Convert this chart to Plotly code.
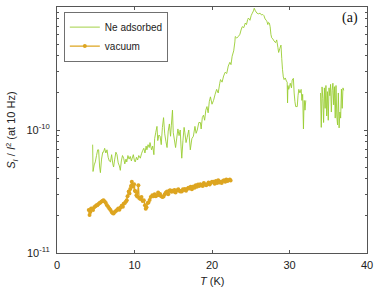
import plotly.graph_objects as go

SCALE = 1e-11  # values below are in units of 1e-11

ne_T = [4.6, 4.65, 4.8, 4.94, 5.1, 5.25, 5.37, 5.5, 5.6, 5.75, 5.9, 6.0, 6.15, 6.3, 6.45, 6.6, 6.75, 6.9,
        7.05, 7.2, 7.3, 7.45, 7.6, 7.74, 7.9, 8.05, 8.17, 8.3, 8.45, 8.6, 8.75, 8.9, 9.0, 9.15, 9.3, 9.45,
        9.6, 9.7, 9.85, 10.0, 10.1, 10.25, 10.4, 10.55, 10.75, 10.9, 11.05, 11.2, 11.35, 11.5, 11.6, 11.75,
        11.9, 12.0, 12.2, 12.35, 12.5, 12.6, 12.75, 12.9, 13.0, 13.15, 13.3, 13.45, 13.6, 13.75, 13.9, 14.05,
        14.2, 14.35, 14.5, 14.65, 14.75, 14.9, 15.0, 15.15, 15.3, 15.45, 15.6, 15.75, 15.9, 16.0, 16.1, 16.25,
        16.4, 16.5, 16.65, 16.8, 17.0, 17.2, 17.4, 17.6, 17.8, 17.95, 18.1, 18.3, 18.5, 18.6, 18.75, 18.9,
        19.05, 19.2, 19.35, 19.5, 19.65, 19.8, 20.0, 20.2, 20.4, 20.6, 20.8, 21.0, 21.1, 21.3, 21.5, 21.7,
        21.9, 22.1, 22.3, 22.45, 22.6, 22.8, 22.95, 23.0, 23.2, 23.4, 23.6, 23.75, 23.9, 24.1, 24.3, 24.45,
        24.6, 24.7, 24.9, 25.05, 25.2, 25.35, 25.45, 25.6, 25.8, 26.0, 26.2, 26.4, 26.55, 26.7, 26.85, 27.0,
        27.1, 27.2, 27.3, 27.4, 27.5, 27.6, 27.7, 27.85, 28.0, 28.2, 28.35, 28.5, 28.6, 28.75, 28.9, 29.0,
        29.1, 29.2, 29.3, 29.45, 29.6, 29.7, 29.75, 29.8, 29.9, 30.0, 30.1, 30.25, 30.35, 30.5, 30.6, 30.7,
        30.8, 31.0, 31.1, 31.2, 31.35, 31.5, 31.6, 31.7, 31.8, 31.85, 31.9, 32.0, 32.1, 33.0,
        34.0, 34.1, 34.2, 34.3, 34.4, 34.5, 34.6, 34.7, 34.8, 34.9, 35.0, 35.1, 35.2, 35.3, 35.4, 35.5,
        35.6, 35.7, 35.8, 35.9, 36.0, 36.1, 36.2, 36.3, 36.4, 36.5, 36.6, 36.7, 36.8, 36.9, 37.0]
ne_val = [7.6, 4.6, 5.2, 5.5, 6.2, 6.9, 6.9, 5.0, 4.5, 5.8, 6.6, 6.6, 7.1, 6.5, 6.9, 6.0, 5.6, 5.5,
          6.3, 5.3, 5.0, 5.8, 6.6, 6.3, 5.4, 5.1, 4.7, 5.6, 6.2, 5.9, 5.3, 5.8, 5.5, 6.2, 5.8, 6.1,
          5.6, 5.9, 6.3, 5.6, 5.5, 6.0, 5.7, 6.2, 5.9, 6.4, 6.8, 7.1, 6.5, 7.4, 6.9, 7.6,
          7.2, 7.9, 6.9, 7.4, 6.3, 8.5, 9.6, 10.7, 8.2, 9.1, 8.9, 7.6, 10.5, 12.6, 9.3, 8.1,
          7.2, 9.8, 11.2, 8.9, 10.8, 14.5, 9.5, 8.3, 7.2, 8.6, 10.2, 9.0, 10.0, 7.4, 5.9, 8.2,
          10.5, 9.5, 7.9, 8.7, 10.0, 6.9, 8.5, 8.9, 10.7, 9.4, 10.0, 11.5, 11.5, 10.2, 12.6, 13.2,
          12.0, 14.5, 15.5, 13.8, 17.0, 18.6, 16.2, 17.4, 19.5, 21.4, 20.0, 24.0, 25.7, 24.5, 27.5, 29.5,
          28.8, 33.1, 35.5, 34.0, 39.8, 44.0, 52.0, 57.5, 56.0, 57.5, 60.0, 65.0, 69.2, 68.0, 74.1, 72.0,
          79.0, 81.3, 78.0, 85.0, 89.1, 93.0, 97.7, 93.0, 89.1, 88.0, 89.1, 86.0, 87.0, 85.1, 80.0, 78.0,
          75.9, 72.0, 75.0, 74.0, 69.2, 60.0, 56.2, 55.0, 53.0, 51.3, 54.0, 47.0, 42.7, 46.0, 49.0, 38.0,
          30.9, 27.0, 25.7, 26.5, 25.0, 24.5, 16.6, 23.0, 21.4, 22.5, 24.0, 22.0, 25.5, 26.3, 20.0, 17.0,
          15.5, 15.5, 19.0, 21.4, 20.0, 21.4, 17.4, 19.5, 10.2, 14.0, 17.4, 14.5, 17.4, None,
          20.0, 10.5, 22.4, 18.0, 11.5, 22.0, 15.0, 23.0, 13.0, 20.5, 12.0, 22.0, 19.0, 23.5, 14.0, 21.0,
          24.0, 16.0, 22.5, 12.5, 23.0, 13.0, 11.0, 20.0, 10.4, 14.0, 12.5, 21.5, 15.0, 22.0, 21.0]

vac_T = [4.1, 4.2, 4.3, 4.4, 4.5, 4.65, 4.8, 4.95, 5.1, 5.2, 5.35, 5.5, 5.6, 5.75, 5.9, 6.0, 6.15, 6.3,
         6.45, 6.6, 6.75, 6.9, 7.05, 7.2, 7.3, 7.45, 7.6, 7.74, 7.9, 8.05, 8.2, 8.35, 8.5, 8.6, 8.75, 8.9,
         9.0, 9.1, 9.25, 9.35, 9.45, 9.55, 9.65, 9.75, 9.85, 9.95, 10.05, 10.15, 10.25, 10.35, 10.5, 10.6,
         10.75, 10.9, 11.05, 11.2, 11.35, 11.45, 11.55, 11.7, 11.8, 11.95, 12.1, 12.3, 12.45, 12.6, 12.75,
         12.9, 13.05, 13.2, 13.3, 13.45, 13.6, 13.75, 13.9, 14.05, 14.2, 14.35, 14.5, 14.6, 14.75, 14.9,
         15.0, 15.15, 15.3, 15.5, 15.65, 15.8, 15.9, 16.1, 16.25, 16.4, 16.5, 16.65, 16.8, 16.95, 17.1,
         17.25, 17.4, 17.6, 17.75, 17.9, 18.05, 18.2, 18.35, 18.5, 18.65, 18.8, 18.95, 19.1, 19.25, 19.4,
         19.55, 19.7, 19.85, 20.0, 20.2, 20.35, 20.5, 20.65, 20.8, 20.95, 21.1, 21.25, 21.4, 21.55, 21.7,
         21.85, 22.0, 22.15, 22.3, 22.4]
vac_val = [2.24, 2.04, 2.15, 2.3, 2.29, 2.24, 2.35, 2.4, 2.45, 2.45, 2.5, 2.55, 2.57, 2.62, 2.66, 2.69, 2.62, 2.55,
           2.45, 2.38, 2.3, 2.24, 2.15, 2.1, 2.09, 2.15, 2.2, 2.24, 2.3, 2.25, 2.34, 2.42, 2.38, 2.51, 2.55, 2.62,
           2.69, 2.9, 3.16, 3.05, 3.31, 3.5, 3.8, 3.6, 3.45, 3.63, 3.2, 3.16, 2.95, 2.88, 3.55, 2.8,
           2.75, 2.85, 2.65, 2.69, 2.45, 2.29, 2.35, 2.55, 2.57, 2.7, 2.85, 2.95, 2.9, 3.0, 2.9,
           2.95, 3.1, 2.95, 3.02, 2.9, 2.85, 2.88, 3.0, 3.1, 3.16, 3.0, 3.2, 3.24, 3.15, 3.2,
           3.16, 3.25, 3.1, 3.24, 3.3, 3.2, 3.16, 3.16, 3.3, 3.25, 3.31, 3.2, 3.31, 3.4, 3.35,
           3.45, 3.3, 3.47, 3.4, 3.55, 3.45, 3.6, 3.5, 3.63, 3.55, 3.5, 3.7, 3.6, 3.55, 3.63,
           3.75, 3.6, 3.7, 3.8, 3.8, 3.65, 3.85, 3.7, 3.9, 3.75, 3.8, 3.7, 3.85, 3.9, 3.8,
           3.95, 3.85, 3.9, 3.95, 3.89]

series_names = ["Ne adsorbed", "vacuum"]
x_ticks = [0, 10, 20, 30, 40]
y_ticks = [1e-11, 1e-10, 1e-9]
y_tick_text = ["10<sup>-11</sup>", "10<sup>-10</sup>", "10<sup>-9</sup>"]
y_minor = [m * 10 ** e for e in (-11, -10) for m in range(2, 10)]

GREEN = "#9ACD32"
ORANGE = "#DDA520"
AXC = "#555555"
FONT = "Liberation Sans, Arial, sans-serif"

fig = go.Figure()
fig.add_trace(go.Scatter(
    x=ne_T, y=[v * SCALE if v is not None else None for v in ne_val],
    mode="lines", name=series_names[0],
    line=dict(color=GREEN, width=0.9, simplify=False), connectgaps=False))
fig.add_trace(go.Scatter(
    x=vac_T, y=[v * SCALE for v in vac_val],
    mode="lines+markers", name=series_names[1],
    line=dict(color=ORANGE, width=1.3, simplify=False),
    marker=dict(color=ORANGE, size=4, line=dict(width=0))))

fig.update_layout(
    width=374, height=291,
    margin=dict(l=57, r=7, t=7, b=38, autoexpand=False),
    paper_bgcolor="white", plot_bgcolor="white",
    font=dict(family=FONT, size=11, color="#222222"),
    showlegend=True,
    legend=dict(x=0.023, y=0.98, xanchor="left", yanchor="top",
                bgcolor="white", bordercolor="#333333", borderwidth=0.7,
                font=dict(size=10, family=FONT), tracegroupgap=0, itemwidth=30),
    xaxis=dict(range=[0, 40], tickvals=x_ticks, ticks="inside", ticklen=3,
               showline=True, linecolor=AXC, linewidth=1, mirror="ticks",
               showgrid=False, zeroline=False, tickcolor=AXC, automargin=False,
               ticklabelstandoff=2),
    yaxis=dict(type="log", range=[-11, -9], tickvals=y_ticks, ticktext=y_tick_text,
               ticks="inside", ticklen=3, tickcolor=AXC, automargin=False,
               showline=True, linecolor=AXC, linewidth=1, mirror="ticks",
               showgrid=False, zeroline=False, ticklabelstandoff=4,
               minor=dict(tickvals=y_minor, ticks="inside", ticklen=2, tickcolor=AXC, showgrid=False)),
    annotations=[
        dict(text="(a)", x=0.978, y=0.955, xref="paper", yref="paper",
             xanchor="right", yanchor="middle", showarrow=False,
             font=dict(family="Liberation Serif, Times New Roman, serif", size=14, color="#111111")),
        dict(text="<i>T</i> (K)", x=0.5, y=-0.114, xref="paper", yref="paper",
             xanchor="center", yanchor="middle", showarrow=False, font=dict(size=11)),
        dict(text="<i>S</i><sub><i>I</i></sub> / <i>I</i><sup>2</sup> (at 10 Hz)",
             x=-0.146, y=0.5, xref="paper", yref="paper", textangle=-90,
             xanchor="center", yanchor="middle", showarrow=False, font=dict(size=11)),
    ],
)

# remove the default 8px page margin so the figure sits at the window's top-left corner
fig.write_html("out.html", config={"displayModeBar": False},
               post_script="document.body.style.margin='0';")
